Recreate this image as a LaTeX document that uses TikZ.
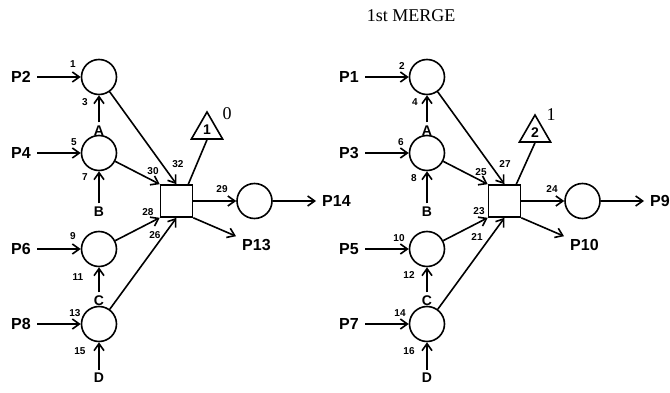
\documentclass[tikz,border=0pt]{standalone}
\usepackage{fontspec}
\setmainfont{Liberation Serif}
\setsansfont{Liberation Sans}
\usetikzlibrary{arrows.meta,shapes.geometric}
\tikzset{
  mrg place/.style={circle, draw, line width=1.6pt, minimum size=35pt, inner sep=0pt},
  mrg box/.style={rectangle, draw, line width=1.6pt, minimum size=32pt, inner sep=0pt},
  mrg tri/.style={regular polygon, regular polygon sides=3, draw, line width=1.6pt, minimum size=36pt, inner sep=0pt, font=\sffamily\bfseries\fontsize{14}{14}\selectfont},
  mrg arc/.style={line width=1.6pt, -{Straight Barb[length=7pt,width=10pt]}},
  mrg line/.style={line width=1.6pt},
  mrg port/.style={font=\sffamily\bfseries\fontsize{16}{16}\selectfont, inner sep=6pt},
  mrg letter/.style={font=\sffamily\bfseries\fontsize{14}{14}\selectfont, inner sep=3pt},
  mrg num/.style={font=\sffamily\bfseries\fontsize{10}{10}\selectfont, inner sep=0pt},
  mrg level/.style={font=\rmfamily\fontsize{18}{18}\selectfont, inner sep=0pt},
  mrg title/.style={font=\rmfamily\fontsize{18}{18}\selectfont, inner sep=0pt},
}
\begin{document}
\begin{tikzpicture}[x=1pt,y=-1pt]
  \useasboundingbox (0,0) rectangle (670,393);
  \node[mrg title] (title) at (411,15.5) {1st MERGE};

  % left merge
  \node[mrg place] (Lp1) at (99,77) {};
  \node[mrg place] (Lp2) at (99,153) {};
  \node[mrg place] (Lp3) at (99,249) {};
  \node[mrg place] (Lp4) at (99,324) {};
  \node[mrg box] (Lbox) at (176.5,201) {};
  \node[mrg tri] (Ltri) at (207,130) {1};
  \node[mrg place] (Lout) at (254.5,201) {};
  \node[mrg level] (Llvl) at (227,114) {0};
  \node[mrg port, anchor=east] (P2) at (37,77) {P2};
  \node[mrg port, anchor=east] (P4) at (37,153) {P4};
  \node[mrg port, anchor=east] (P6) at (37,249) {P6};
  \node[mrg port, anchor=east] (P8) at (37,324) {P8};
  \node[mrg port, anchor=west] (P14) at (316,201) {P14};
  \node[mrg port, anchor=west] (P13) at (236,245) {P13};
  \node[mrg letter] (LA) at (99,130.5) {A};
  \node[mrg letter] (LB) at (99,211.5) {B};
  \node[mrg letter] (LC) at (99,300.5) {C};
  \node[mrg letter] (LD) at (99,378) {D};
  \node[mrg num] (n1) at (73,64) {1};
  \node[mrg num] (n3) at (85,102) {3};
  \node[mrg num] (n5) at (74,142) {5};
  \node[mrg num] (n7) at (85,177) {7};
  \node[mrg num] (n30) at (153,171) {30};
  \node[mrg num] (n32) at (178,164) {32};
  \node[mrg num] (n29) at (222,189) {29};
  \node[mrg num] (n28) at (148,212) {28};
  \node[mrg num] (n26) at (155,235) {26};
  \node[mrg num] (n9) at (73,236) {9};
  \node[mrg num] (n11) at (78,277) {11};
  \node[mrg num] (n13) at (75,313) {13};
  \node[mrg num] (n15) at (80,351) {15};
  \draw[mrg arc] (P2) -- (Lp1);
  \draw[mrg arc] (P4) -- (Lp2);
  \draw[mrg arc] (P6) -- (Lp3);
  \draw[mrg arc] (P8) -- (Lp4);
  \draw[mrg arc] (LA) -- (Lp1);
  \draw[mrg arc] (LB) -- (Lp2);
  \draw[mrg arc] (LC) -- (Lp3);
  \draw[mrg arc] (LD) -- (Lp4);
  \draw[mrg arc] (Lp1) -- (Lbox.north);
  \draw[mrg arc] (Lp2) -- (Lbox.north west);
  \draw[mrg arc] (Lp3) -- (Lbox.south west);
  \draw[mrg arc] (Lp4) -- (Lbox.south);
  \draw[mrg line] ([xshift=-5pt]Lbox.north east) -- (Ltri.south);
  \draw[mrg arc] (Lbox) -- (Lout);
  \draw[mrg arc] (Lout) -- (P14);
  \draw[mrg arc] (Lbox.south east) -- (P13);

  % right merge
  \begin{scope}[xshift=328pt]
    \node[mrg place] (Rp1) at (99,77) {};
    \node[mrg place] (Rp2) at (99,153) {};
    \node[mrg place] (Rp3) at (99,249) {};
    \node[mrg place] (Rp4) at (99,324) {};
    \node[mrg box] (Rbox) at (176.5,201) {};
    \node[mrg tri] (Rtri) at (207,133) {2};
    \node[mrg level] (Rlvl) at (223,115) {1};
    \node[mrg place] (Rout) at (254.5,201) {};
    \node[mrg port, anchor=east] (P1) at (37,77) {P1};
    \node[mrg port, anchor=east] (P3) at (37,153) {P3};
    \node[mrg port, anchor=east] (P5) at (37,249) {P5};
    \node[mrg port, anchor=east] (P7) at (37,324) {P7};
    \node[mrg port, anchor=west] (P9) at (316,201) {P9};
    \node[mrg port, anchor=west] (P10) at (236,245) {P10};
    \node[mrg letter] (RA) at (99,130.5) {A};
    \node[mrg letter] (RB) at (99,211.5) {B};
    \node[mrg letter] (RC) at (99,300.5) {C};
    \node[mrg letter] (RD) at (99,378) {D};
    \node[mrg num] (n2) at (74,66) {2};
    \node[mrg num] (n4) at (87,102) {4};
    \node[mrg num] (n6) at (73,142) {6};
    \node[mrg num] (n8) at (86,178) {8};
    \node[mrg num] (n25) at (153,172) {25};
    \node[mrg num] (n27) at (177,164) {27};
    \node[mrg num] (n24) at (224,189) {24};
    \node[mrg num] (n23) at (151,211) {23};
    \node[mrg num] (n21) at (149,237) {21};
    \node[mrg num] (n10) at (71,238) {10};
    \node[mrg num] (n12) at (81,275) {12};
    \node[mrg num] (n14) at (72,313) {14};
    \node[mrg num] (n16) at (81,351) {16};
    \draw[mrg arc] (P1) -- (Rp1);
    \draw[mrg arc] (P3) -- (Rp2);
    \draw[mrg arc] (P5) -- (Rp3);
    \draw[mrg arc] (P7) -- (Rp4);
    \draw[mrg arc] (RA) -- (Rp1);
    \draw[mrg arc] (RB) -- (Rp2);
    \draw[mrg arc] (RC) -- (Rp3);
    \draw[mrg arc] (RD) -- (Rp4);
    \draw[mrg arc] (Rp1) -- (Rbox.north);
    \draw[mrg arc] (Rp2) -- (Rbox.north west);
    \draw[mrg arc] (Rp3) -- (Rbox.south west);
    \draw[mrg arc] (Rp4) -- (Rbox.south);
    \draw[mrg line] ([xshift=-5pt]Rbox.north east) -- (Rtri.south);
    \draw[mrg arc] (Rbox) -- (Rout);
    \draw[mrg arc] (Rout) -- (P9);
    \draw[mrg arc] (Rbox.south east) -- (P10);
  \end{scope}
\end{tikzpicture}
\end{document}
